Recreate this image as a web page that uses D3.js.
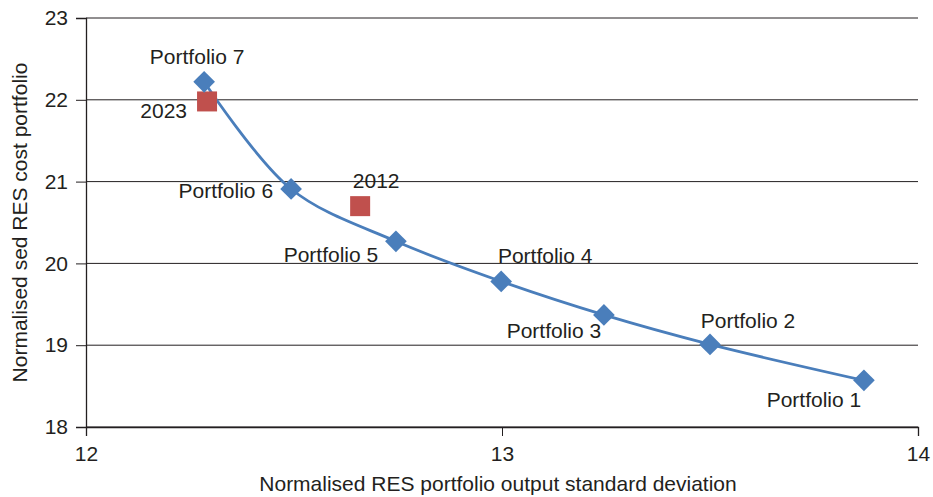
<!DOCTYPE html>
<html>
<head>
<meta charset="utf-8">
<script src="https://cdn.jsdelivr.net/npm/d3@7"></script>
<style>
  body { margin: 0; background: #fff; }
  text { font-family: "Liberation Sans", Arial, sans-serif; fill: #231f20; }
</style>
</head>
<body>
<script>
var portfolioNames = ["Portfolio 1", "Portfolio 2", "Portfolio 3", "Portfolio 4", "Portfolio 5", "Portfolio 6", "Portfolio 7"],
    portfolioStd = [13.87, 13.50, 13.245, 12.998, 12.745, 12.493, 12.284],
    portfolioCost = [18.57, 19.01, 19.37, 19.78, 20.27, 20.91, 22.22],
    yearNames = ["2023", "2012"],
    yearStd = [12.291, 12.659],
    yearCost = [21.98, 20.70],
    xTicks = [12, 13, 14],
    yTicks = [18, 19, 20, 21, 22, 23];

// label offsets, in px, relative to each marker
var portfolioLabelPos = [
    {dx: -50, dy: 27, anchor: "middle"},
    {dx: 38, dy: -16, anchor: "middle"},
    {dx: -50, dy: 23, anchor: "middle"},
    {dx: 44, dy: -18, anchor: "middle"},
    {dx: -65, dy: 21, anchor: "middle"},
    {dx: -18, dy: 9, anchor: "end"},
    {dx: -7, dy: -18, anchor: "middle"}
];
var yearLabelPos = [
    {dx: -20, dy: 17, anchor: "end"},
    {dx: 16, dy: -18, anchor: "middle"}
];

var width = 933,
    height = 497,
    margin = {top: 18, right: 15, bottom: 70, left: 86},
    fontSize = "21px";

var svg = d3.select("body").append("svg")
    .attr("width", width)
    .attr("height", height);

var x = d3.scaleLinear().domain([12, 14]).range([margin.left, width - margin.right]);
var y = d3.scaleLinear().domain([18, 23]).range([height - margin.bottom, margin.top]);

// gridlines
svg.append("g")
    .selectAll("line")
    .data(yTicks)
    .enter().append("line")
    .attr("x1", x(12))
    .attr("x2", x(14))
    .attr("y1", d => y(d))
    .attr("y2", d => y(d))
    .attr("stroke", "#231f20")
    .attr("stroke-width", 1);

var xAxis = svg.append("g")
    .attr("transform", "translate(0," + y(18) + ")")
    .call(d3.axisBottom(x).tickValues(xTicks).tickFormat(d3.format("d")).tickSize(9).tickPadding(10));
var yAxis = svg.append("g")
    .attr("transform", "translate(" + x(12) + ",0)")
    .call(d3.axisLeft(y).tickValues(yTicks).tickFormat(d3.format("d")).tickSize(10).tickPadding(8));

[xAxis, yAxis].forEach(function(g) {
    g.select(".domain").attr("stroke", "#231f20").attr("stroke-width", 1.3);
    g.selectAll(".tick line").attr("stroke", "#231f20");
    g.selectAll(".tick text").style("font-size", fontSize).attr("fill", "#231f20")
        .style("font-family", "'Liberation Sans', Arial, sans-serif");
});

// axis titles
svg.append("text")
    .attr("x", (x(12) + x(14)) / 2 - 4)
    .attr("y", 491)
    .attr("text-anchor", "middle")
    .style("font-size", fontSize)
    .text("Normalised RES portfolio output standard deviation");

svg.append("text")
    .attr("transform", "translate(27," + y(20.5) + ") rotate(-90)")
    .attr("text-anchor", "middle")
    .style("font-size", fontSize)
    .text("Normalised sed RES cost portfolio");

// curve
var points = portfolioStd.map((s, i) => ({x: s, y: portfolioCost[i]}));
var line = d3.line()
    .x(d => x(d.x))
    .y(d => y(d.y))
    .curve(d3.curveCatmullRom.alpha(0.5));

svg.append("path")
    .datum(points)
    .attr("d", line)
    .attr("fill", "none")
    .attr("stroke", "#4a7ebb")
    .attr("stroke-width", 2.75);

// year markers
svg.append("g")
    .selectAll("rect")
    .data(yearStd)
    .enter().append("rect")
    .attr("x", d => x(d) - 10)
    .attr("y", (d, i) => y(yearCost[i]) - 10)
    .attr("width", 20)
    .attr("height", 20)
    .attr("fill", "#c0504d");

// portfolio markers
var diamond = d3.symbol().type(d3.symbolSquare).size(235);
svg.append("g")
    .selectAll("path")
    .data(points)
    .enter().append("path")
    .attr("d", diamond)
    .attr("transform", d => "translate(" + x(d.x) + "," + y(d.y) + ") rotate(45)")
    .attr("fill", "#4a7ebb");

// labels
svg.append("g")
    .selectAll("text")
    .data(portfolioNames)
    .enter().append("text")
    .attr("x", (d, i) => x(portfolioStd[i]) + portfolioLabelPos[i].dx)
    .attr("y", (d, i) => y(portfolioCost[i]) + portfolioLabelPos[i].dy)
    .attr("text-anchor", (d, i) => portfolioLabelPos[i].anchor)
    .style("font-size", fontSize)
    .text(d => d);

svg.append("g")
    .selectAll("text")
    .data(yearNames)
    .enter().append("text")
    .attr("x", (d, i) => x(yearStd[i]) + yearLabelPos[i].dx)
    .attr("y", (d, i) => y(yearCost[i]) + yearLabelPos[i].dy)
    .attr("text-anchor", (d, i) => yearLabelPos[i].anchor)
    .style("font-size", fontSize)
    .text(d => d);
</script>
</body>
</html>
